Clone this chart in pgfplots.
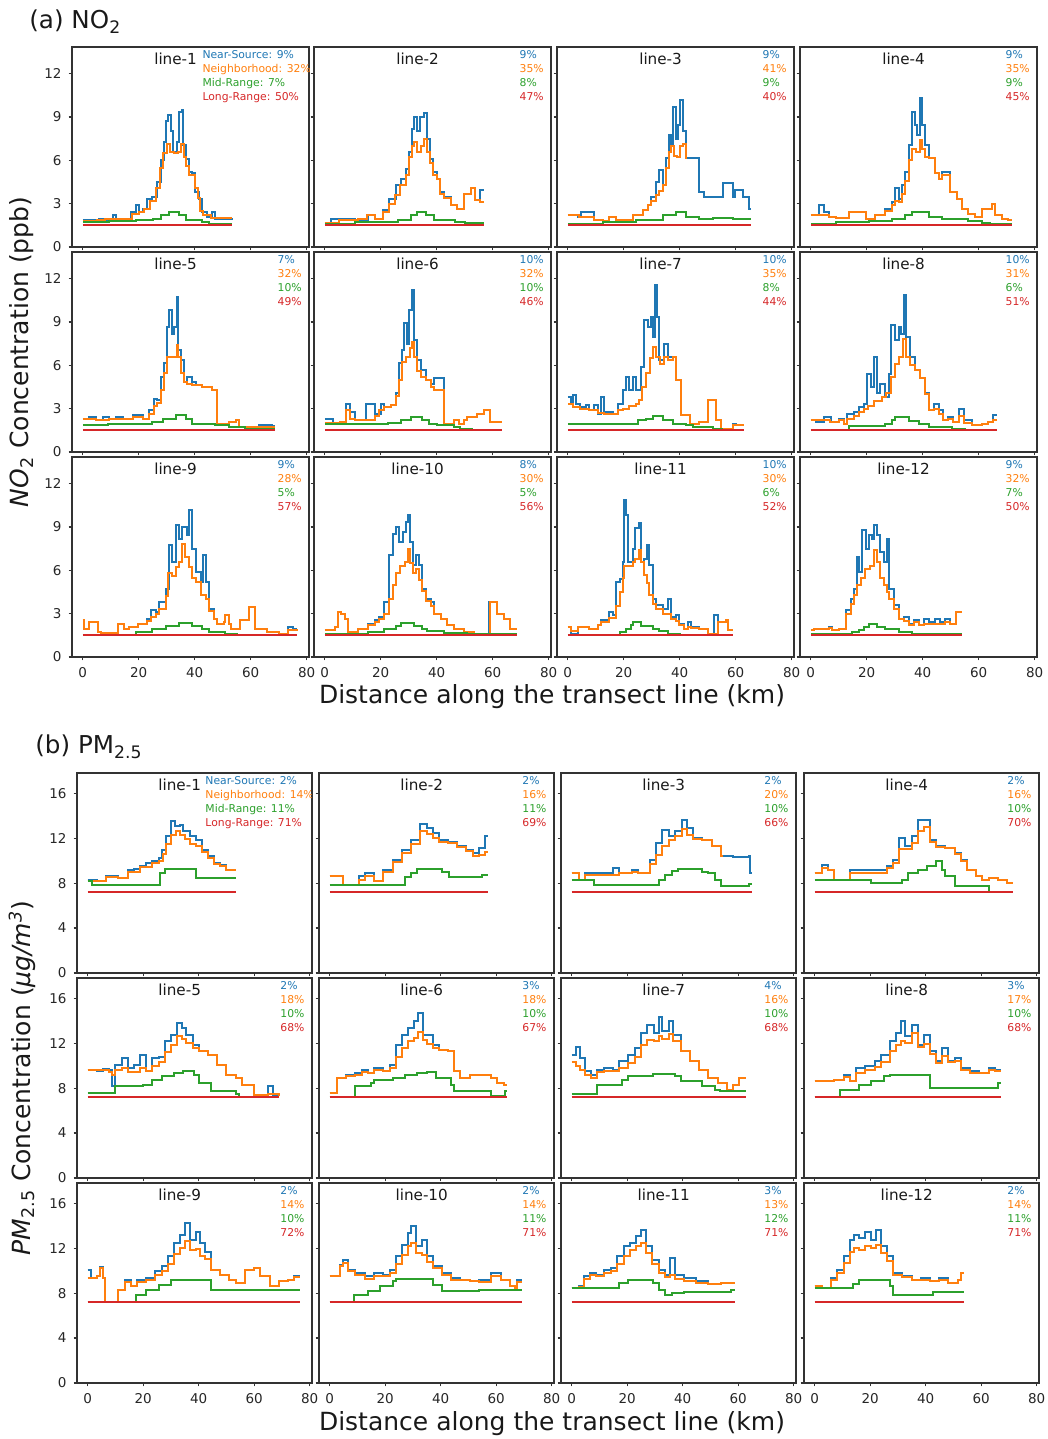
\documentclass[border=0pt]{standalone}
\usepackage{fontspec}
\setmainfont{DejaVu Sans}
\usepackage{pgfplots}
\pgfplotsset{compat=1.18}
\definecolor{cB}{HTML}{1F77B4}
\definecolor{cO}{HTML}{FF7F0E}
\definecolor{cG}{HTML}{2CA02C}
\definecolor{cR}{HTML}{D62728}
\pgfplotsset{
 base/.style={scale only axis, width=118.5pt, height=100pt, xmin=-3.85, xmax=80.85, ymin=0,
   axis line style={black!80, line width=0.6pt}, tick style={black!80, line width=0.6pt},
   major tick length=1.75pt, tick align=outside, xtick pos=bottom, ytick pos=left,
   xtick={0,20,40,60,80}, ticklabel style={font=\fontsize{6.75}{8}\selectfont, text=black!85},
   /pgf/number format/assume math mode=true, anchor=north west},
 pa/.style={base, ymax=13.85, ytick={0,3,6,9,12}},
 pb/.style={base, ymax=17.8, ytick={0,4,8,12,16}, width=117.5pt},
 nx/.style={xticklabels={,,,,,}}, ny/.style={yticklabels={,,,,,}},
 bs/.style={const plot, no markers, line width=1pt, cB},
 os/.style={const plot, no markers, line width=1pt, cO},
 gs/.style={const plot, no markers, line width=1pt, cG},
 rs/.style={no markers, line width=1pt, cR},
}
\tikzset{lg/.style={anchor=base west, inner sep=0pt, font=\fontsize{5.4}{6}\selectfont}}
\newcommand\legS[5]{%
 \node[lg,text=cB,yshift=-6pt] at (rel axis cs:#1,1) {#2\%};
 \node[lg,text=cO,yshift=-13pt] at (rel axis cs:#1,1) {#3\%};
 \node[lg,text=cG,yshift=-20pt] at (rel axis cs:#1,1) {#4\%};
 \node[lg,text=cR,yshift=-27pt] at (rel axis cs:#1,1) {#5\%};}
\newcommand\legL[5]{%
 \node[lg,text=cB,yshift=-6pt] at (rel axis cs:#1,1) {Near-Source: #2\%};
 \node[lg,text=cO,yshift=-13pt] at (rel axis cs:#1,1) {Neighborhood: #3\%};
 \node[lg,text=cG,yshift=-20pt] at (rel axis cs:#1,1) {Mid-Range: #4\%};
 \node[lg,text=cR,yshift=-27pt] at (rel axis cs:#1,1) {Long-Range: #5\%};}
\newcommand\ttl[1]{\node[anchor=base,inner sep=0pt,font=\fontsize{7.6}{9}\selectfont,text=black!90,yshift=-9pt] at (rel axis cs:0.437,1) {#1};}
\begin{document}
\begin{tikzpicture}
% ================= (a) NO2 =================
\begin{axis}[pa,nx,at={(36pt,696pt)}]
\addplot[bs] coordinates {(0,1.85)(5.9,1.97)(7.1,1.85)(10.7,2.2)(11.9,1.97)(16,1.97)(17.2,2.43)(19,2.9)(20.2,2.43)(21.4,2.66)(23.1,3.35)(24.9,3.47)(26.7,4.5)(27.9,6.0)(29.1,7.3)(29.9,8.7)(30.6,9.15)(31.4,8.0)(32.3,6.6)(33.5,7.3)(34.4,9.35)(35.3,9.5)(35.9,7.05)(36.8,6.1)(38,5.2)(39.1,5.1)(40.1,3.8)(41.5,3.35)(42.7,2.43)(44.5,2.1)(46.3,2.43)(47.4,1.97)(53.4,2.0)};
\addplot[os] coordinates {(0,1.8)(5,1.85)(8,1.95)(16,1.95)(17.5,2.3)(20,2.4)(22,2.6)(24,3.2)(26,4.1)(27.5,5.5)(28.5,6.5)(30,7.1)(31,6.6)(32.5,6.5)(34,6.6)(35,7.1)(36,6.2)(37,5.6)(38,5.0)(40,4.1)(41,3.4)(42,2.5)(43,2.2)(46,2.0)(53.4,2.0)};
\addplot[gs] coordinates {(0,1.73)(9.5,1.8)(19,1.85)(25,1.97)(27.9,2.2)(30.8,2.43)(32,2.43)(34.4,2.2)(36.8,1.85)(42.7,1.73)(45,1.62)(53.4,1.62)};
\addplot[rs] coordinates {(0,1.55)(53.4,1.55)};
\ttl{line-1}\legL{0.549}{9}{32}{7}{50}
\end{axis}
\begin{axis}[pa,nx,ny,at={(157pt,696pt)}]
\addplot[bs] coordinates {(0,1.65)(2.4,1.92)(7.1,1.97)(10.7,1.85)(15.4,2.2)(17.8,1.97)(20.7,2.54)(23.1,3.35)(25.4,4.28)(27.2,4.74)(29,5.43)(30.2,6.6)(31.1,8.2)(32,9.0)(32.9,8.0)(34.1,9.0)(35.3,9.25)(36.4,7.5)(37.6,6.1)(38.8,5.2)(40.2,4.74)(41.2,3.8)(42.6,3.47)(45,2.9)(47.3,2.66)(49.7,3.7)(52.1,4.05)(53.8,3.24)(55.6,3.93)(56.8,3.93)};
\addplot[os] coordinates {(0,1.65)(5,1.85)(12,1.95)(15,2.2)(18,1.97)(20.7,2.4)(23,3.0)(25,3.6)(27,4.3)(29,5.0)(30,6.2)(31,7.0)(32,7.3)(33,6.6)(34.5,7.0)(35.5,7.5)(36.5,6.6)(37.5,5.8)(38.8,5.0)(40,4.7)(41.2,3.7)(42.6,3.4)(45,2.9)(47.3,2.66)(49.7,3.7)(52.1,4.05)(53.8,3.24)(55.5,3.1)(56.8,3.1)};
\addplot[gs] coordinates {(0,1.62)(10.7,1.73)(26,1.85)(30.8,2.2)(33.1,2.43)(36.1,2.2)(39,1.85)(46.7,1.73)(50,1.67)(56.8,1.67)};
\addplot[rs] coordinates {(0,1.55)(56.8,1.55)};
\ttl{line-2}\legS{0.866}{9}{35}{8}{47}
\end{axis}
\begin{axis}[pa,nx,ny,at={(278.5pt,696pt)}]
\addplot[bs] coordinates {(0,2.2)(3.6,2.08)(4.8,2.43)(9.5,1.85)(12.5,1.78)(14.9,2.08)(17.3,1.85)(23.2,2.2)(26.8,2.54)(28.6,2.9)(29.8,3.47)(31.5,4.5)(32.7,5.3)(33.9,4.28)(35.1,6.13)(36.1,7.75)(36.9,7.05)(37.5,9.7)(38.5,7.5)(39.3,8.44)(40.2,10.2)(41.3,8.0)(42.3,6.13)(47,3.8)(48.8,3.47)(55.4,4.4)(58.9,3.47)(59.9,3.93)(62.5,3.47)(64.9,2.66)(65.5,2.66)};
\addplot[os] coordinates {(0,2.2)(4,2.08)(9.5,1.85)(12.5,1.78)(14.9,2.08)(17.3,1.85)(23.2,2.2)(26.8,2.54)(28.6,2.9)(29.8,3.2)(31.5,3.6)(32.7,3.9)(33.9,4.28)(35.1,5.5)(36.1,6.6)(37,7.0)(38,6.3)(39,6.2)(40.2,7.0)(41,7.1)(42.3,6.13)(42.6,6.13)};
\addplot[gs] coordinates {(0,1.62)(12.5,1.73)(24.4,1.85)(33.9,2.2)(38.7,2.43)(42.3,2.08)(47,1.97)(51.8,2.0)(58.9,1.97)(62,1.92)(65.5,1.92)};
\addplot[rs] coordinates {(0,1.55)(65.5,1.55)};
\ttl{line-3}\legS{0.866}{9}{41}{9}{40}
\end{axis}
\begin{axis}[pa,nx,ny,at={(400pt,696pt)}]
\addplot[bs] coordinates {(0,2.2)(3,2.9)(4.7,2.43)(6.5,2.08)(8.9,2.0)(13.6,2.43)(19.6,1.97)(23.1,2.2)(26.7,2.66)(29.1,3.12)(30.2,4.05)(31.4,3.35)(32.6,4.28)(33.8,5.2)(35,7.05)(36.2,9.36)(37.1,8.44)(38,7.75)(38.9,10.3)(39.7,8.44)(40.7,7.05)(42.1,6.13)(44.5,5.1)(45.7,4.74)(46.9,5.2)(49.8,3.8)(52.2,3.35)(54,2.66)(56.3,2.31)(58.7,2.08)(61.1,2.66)(64.7,3.0)(65.8,2.2)(68.2,1.97)(70.6,1.85)(71.8,1.85)};
\addplot[os] coordinates {(0,2.2)(3,2.2)(6.5,2.08)(8.9,2.0)(13.6,2.43)(19.6,1.97)(23.1,2.2)(26.7,2.5)(29.1,2.9)(30.2,3.2)(31.4,3.1)(32.6,3.7)(33.8,4.6)(35,6.0)(36.2,6.8)(37.5,6.6)(38.9,7.4)(39.7,6.8)(40.7,6.2)(42.1,6.13)(44.5,5.1)(45.7,4.74)(46.9,5.0)(49.8,3.8)(52.2,3.35)(54,2.66)(56.3,2.31)(58.7,2.08)(61.1,2.66)(64.7,3.0)(65.8,2.2)(68.2,1.97)(70.6,1.85)(71.8,1.85)};
\addplot[gs] coordinates {(0,1.62)(8.9,1.73)(20.8,1.8)(29,1.97)(33.8,2.2)(36.2,2.43)(42.1,2.08)(46.9,1.97)(56.3,1.8)(61.1,1.69)(64,1.62)(71.8,1.62)};
\addplot[rs] coordinates {(0,1.55)(71.8,1.55)};
\ttl{line-4}\legS{0.866}{9}{35}{9}{45}
\end{axis}
% row 2
\begin{axis}[pa,nx,at={(36pt,593.5pt)}]
\addplot[bs] coordinates {(0,2.31)(2.4,2.43)(4.7,2.2)(7.1,2.43)(9.5,2.31)(11.9,2.43)(14.2,2.31)(17.8,2.54)(21.4,2.31)(23.7,2.9)(25.5,3.7)(26.7,3.58)(27.9,5.2)(29.1,6.13)(30,8.67)(30.8,9.83)(31.8,8.2)(32.6,8.67)(33.5,10.75)(34.2,7.05)(35,6.36)(36.2,4.86)(37.4,5.2)(39.1,4.86)(40.3,4.62)(42.7,4.5)(46.3,4.28)(48,1.97)(52.2,2.08)(54.6,2.2)(55.8,1.73)(60.5,1.73)(62.9,1.85)(67.6,1.78)(68.8,1.78)};
\addplot[os] coordinates {(0,2.31)(4.7,2.2)(7.1,2.2)(9.5,2.31)(14.2,2.31)(17.8,2.4)(21.4,2.31)(23.7,2.6)(25.5,3.2)(26.7,3.4)(27.9,4.3)(29.1,5.5)(30,6.6)(32.6,6.6)(33.5,7.4)(34.2,6.6)(35,5.5)(36.2,4.86)(37.4,4.74)(39.1,4.62)(42.7,4.5)(46.3,4.28)(48,1.97)(52.2,2.08)(54.6,2.2)(55.8,1.73)(68.8,1.73)};
\addplot[gs] coordinates {(0,1.85)(8.9,1.92)(24.9,2.08)(28.5,2.31)(33.2,2.54)(36.8,2.31)(39.1,1.97)(47.4,1.85)(52.2,1.73)(58,1.62)(68.8,1.62)};
\addplot[rs] coordinates {(0,1.5)(68.8,1.5)};
\ttl{line-5}\legS{0.866}{7}{32}{10}{49}
\end{axis}
\begin{axis}[pa,nx,ny,at={(157pt,593.5pt)}]
\addplot[bs] coordinates {(0,2.31)(3,1.97)(7.7,3.35)(8.9,2.77)(10.7,2.2)(14.8,3.35)(17.8,2.66)(20.1,3.35)(21.3,3.12)(23.7,3.24)(25.4,4.05)(26.6,6.13)(27.6,7.05)(28.4,8.9)(29.3,7.5)(30.2,9.83)(31,11.2)(32,7.75)(33.1,6.36)(34.3,5.66)(36.1,4.97)(37.9,4.74)(39.1,5.1)(42.6,1.97)(46.2,2.2)(47.9,1.97)(49.7,2.2)(50.9,2.43)(54.4,2.66)(56.8,2.9)(59.2,2.08)(63.3,2.08)};
\addplot[os] coordinates {(0,2.0)(5.3,2.1)(7.7,2.9)(9,2.3)(10.7,2.2)(17.8,2.5)(19.5,2.9)(21.3,3.12)(23.7,3.24)(25.4,3.9)(26.6,5.0)(27.6,6.2)(29,6.6)(30.5,7.2)(31,7.6)(32,6.6)(33.1,5.6)(34.3,5.2)(36.1,4.97)(37.9,4.5)(39.1,4.3)(42.6,1.97)(46.2,2.2)(47.9,1.97)(49.7,2.2)(50.9,2.43)(54.4,2.66)(56.8,2.9)(59.2,2.08)(63.3,2.08)};
\addplot[gs] coordinates {(0,1.97)(22.5,2.02)(27.2,2.2)(30.8,2.43)(34.9,2.2)(37.3,1.97)(40.2,1.85)(46.2,1.73)(48.5,1.62)(52.7,1.5)(63.3,1.5)};
\addplot[rs] coordinates {(0,1.5)(63.3,1.5)};
\ttl{line-6}\legS{0.866}{10}{32}{10}{46}
\end{axis}
\begin{axis}[pa,nx,ny,at={(278.5pt,593.5pt)}]
\addplot[bs] coordinates {(0,3.8)(1.2,3.47)(1.8,3.93)(3,3.35)(4.2,3.12)(6.5,3.24)(7.7,2.9)(9.5,3.24)(10.7,2.66)(11.9,3.8)(13.1,2.77)(16.1,2.66)(17.9,3.35)(19.6,4.28)(20.8,5.2)(22,4.28)(23.2,5.2)(24.4,4.28)(26.2,5.9)(27.4,9.13)(28.6,8.67)(29.8,9.36)(30.6,7.98)(31.3,11.56)(31.9,9.36)(32.5,6.36)(34.5,7.51)(35.7,6.6)(37.5,6.6)(38.7,4.97)(40.5,2.54)(43.5,1.97)(47,2.08)(50,3.58)(53,2.2)(54.8,1.62)(58.9,1.97)(60.1,1.85)(63.1,1.85)};
\addplot[os] coordinates {(0,3.3)(2,3.1)(4.2,3.0)(7.7,2.9)(10.7,2.7)(13.1,2.6)(16.1,2.6)(18,2.9)(19.6,3.0)(22,3.2)(24.4,3.3)(25.5,3.6)(26.5,4.5)(28,5.5)(29.5,6.5)(30.6,7.3)(31.5,6.6)(33,6.1)(34.5,6.6)(35.7,6.4)(37.5,6.6)(38.7,4.97)(40.5,2.54)(43.5,1.97)(47,2.08)(50,3.58)(53,2.2)(54.8,1.62)(58.9,1.85)(63.1,1.85)};
\addplot[gs] coordinates {(0,1.92)(18.5,1.92)(23.2,1.97)(25,2.2)(28,2.31)(30.4,2.47)(33.9,2.2)(37.5,1.97)(42.3,1.85)(44.6,1.73)(51.8,1.62)(55,1.55)(63.1,1.55)};
\addplot[rs] coordinates {(0,1.5)(63.1,1.5)};
\ttl{line-7}\legS{0.866}{10}{35}{8}{44}
\end{axis}
\begin{axis}[pa,nx,ny,at={(400pt,593.5pt)}]
\addplot[bs] coordinates {(0,2.2)(1.8,2.08)(4.7,2.43)(7.1,2.08)(10.1,2.31)(11.9,1.97)(13,2.66)(15.4,2.77)(17.2,3.12)(19,3.35)(20.2,5.43)(21.4,4.5)(22.5,6.6)(23.7,4.05)(24.9,4.74)(26.7,3.8)(27.9,5.43)(28.8,8.8)(30,7.75)(31.4,8.67)(32.4,8.2)(33.2,10.9)(34,7.98)(35.6,6.6)(37.4,5.66)(39.1,5.1)(40.9,4.05)(42.1,2.9)(43.9,3.35)(45.7,2.9)(47.4,2.2)(49.2,2.43)(51,2.08)(52.8,3.0)(54.6,2.2)(57.5,1.85)(61.1,1.97)(63.5,2.08)(65.2,2.54)(66.4,2.54)};
\addplot[os] coordinates {(0,2.2)(7,2.08)(10,2.2)(12,1.97)(13,2.3)(15.4,2.5)(17.2,2.8)(19,3.0)(20.5,3.2)(22.5,3.5)(24,3.5)(25.5,3.8)(27,4.1)(28.5,5.2)(30,6.1)(31.5,6.6)(33,7.8)(34,6.6)(35.6,6.0)(37.4,5.7)(39.1,5.1)(40.9,4.0)(42.1,2.9)(43.9,3.0)(45.7,2.6)(47.4,2.2)(49.2,2.3)(51,2.08)(52.8,2.5)(54.6,2.0)(57.5,1.85)(61.1,1.97)(63.5,2.08)(65.2,2.2)(66.4,2.2)};
\addplot[gs] coordinates {(0,1.55)(13.6,1.78)(26.7,1.97)(29,2.2)(30,2.43)(35,2.15)(38.6,1.97)(42.1,1.73)(50.4,1.62)(55,1.55)(66.4,1.55)};
\addplot[rs] coordinates {(0,1.5)(66.4,1.5)};
\ttl{line-8}\legS{0.866}{10}{31}{6}{51}
\end{axis}
% row 3
\begin{axis}[pa,at={(36pt,491pt)}]
\addplot[bs] coordinates {(0,2.54)(0.6,1.97)(2.4,2.43)(5.3,1.73)(6.5,1.66)(12.5,2.31)(14.8,1.97)(16.6,2.08)(19.6,2.31)(23.1,2.66)(24.3,3.24)(26.1,3.12)(27.3,3.8)(29.7,4.74)(30.8,7.75)(32,6.6)(33.2,9.13)(34.4,8.2)(35.6,9.0)(37.4,8.44)(38,10.2)(38.9,7.5)(40.3,5.9)(42.1,5.2)(42.9,7.05)(43.9,5.2)(45.1,3.35)(46.9,2.66)(48,2.31)(50.4,2.43)(51,2.9)(52.2,2.31)(52.8,1.97)(56.3,2.54)(59.3,3.47)(61.7,1.97)(65.8,1.73)(70,1.62)(73.5,2.08)(75.3,1.97)(76.5,1.97)};
\addplot[os] coordinates {(0,2.54)(0.6,1.97)(2.4,2.43)(5.3,1.73)(6.5,1.66)(12.5,2.31)(14.8,1.97)(16.6,2.08)(19.6,2.31)(23.1,2.5)(24.3,2.8)(26.1,3.0)(27.3,3.3)(29.7,4.2)(30.5,5.8)(32,5.6)(33.2,6.2)(34.4,6.6)(35.5,7.8)(36.5,6.9)(38,6.2)(39,5.5)(40.3,5.2)(42.1,4.3)(43.9,4.0)(45.1,3.2)(46.9,2.66)(48,2.31)(50.4,2.43)(51,2.9)(52.2,2.31)(52.8,1.97)(56.3,2.54)(59.3,3.47)(61.7,1.97)(65.8,1.73)(70,1.62)(73.5,1.9)(76.5,1.97)};
\addplot[gs] coordinates {(0,1.55)(19,1.73)(24.9,1.92)(29.7,2.15)(34.4,2.38)(38.9,2.15)(42.7,1.97)(45,1.73)(51,1.62)(55,1.55)(76.5,1.55)};
\addplot[rs] coordinates {(0,1.5)(76.5,1.5)};
\ttl{line-9}\legS{0.866}{9}{28}{5}{57}
\end{axis}
\begin{axis}[pa,ny,at={(157pt,491pt)}]
\addplot[bs] coordinates {(0,1.85)(3.6,2.08)(4.7,3.12)(5.9,3.0)(7.1,2.66)(8.3,1.73)(11.8,1.97)(15.4,2.31)(17.8,2.54)(19.5,2.77)(21.3,3.8)(23.1,7.05)(24.3,8.55)(25.4,9.0)(26.6,7.98)(27.8,8.67)(29,9.36)(29.6,9.83)(30.5,7.98)(31.4,6.36)(32.5,7.05)(33.7,6.36)(34.9,4.74)(36.1,4.05)(37.9,3.8)(39.1,3.0)(41.4,2.66)(43.8,2.2)(46.2,1.97)(49.7,1.73)(53.3,1.62)(58.6,3.8)(61.5,3.0)(63.9,2.66)(66.3,1.97)(68.6,1.97)};
\addplot[os] coordinates {(0,1.85)(3.6,2.08)(4.7,3.12)(5.9,3.0)(7.1,2.66)(8.3,1.73)(11.8,1.97)(15.4,2.2)(17.8,2.4)(19.5,2.6)(21.3,3.0)(23,4.0)(24.3,5.0)(25.4,5.8)(27,6.3)(28.5,6.6)(29.6,7.5)(30.5,6.5)(31.4,5.8)(32.5,6.1)(33.7,5.3)(34.9,4.6)(36.1,3.9)(37.9,3.5)(39.1,3.0)(41.4,2.66)(43.8,2.2)(46.2,1.97)(49.7,1.73)(53.3,1.62)(58.9,3.8)(61.5,3.0)(63.9,2.66)(66.3,1.97)(68.6,1.97)};
\addplot[gs] coordinates {(0,1.62)(15.4,1.73)(21.3,1.92)(25.4,2.15)(27.2,2.36)(32,2.15)(34.9,1.97)(36.7,1.78)(42.6,1.66)(50.9,1.57)(68.6,1.57)};
\addplot[rs] coordinates {(0,1.5)(68.6,1.5)};
\ttl{line-10}\legS{0.866}{8}{30}{5}{56}
\end{axis}
\begin{axis}[pa,ny,at={(278.5pt,491pt)}]
\addplot[bs] coordinates {(0,2.08)(1.2,1.62)(3.6,2.08)(7.7,1.97)(10.7,2.2)(11.9,2.54)(14.9,3.12)(16.1,2.9)(17.3,5.2)(18.5,5.43)(19.6,6.6)(20.2,10.87)(20.8,9.83)(21.5,6.6)(23.2,7.5)(24.2,8.9)(25.4,9.25)(26.2,6.6)(27.4,6.82)(28.3,7.75)(29.2,6.36)(30.4,4.05)(31.5,3.58)(33.9,3.35)(35.7,4.05)(36.9,2.77)(38.7,2.9)(39.9,2.31)(41.7,1.97)(42.9,2.43)(44,2.08)(47,1.97)(50,1.62)(52.4,2.9)(53.6,2.43)(56.5,2.54)(57.1,1.85)(58.9,1.85)};
\addplot[os] coordinates {(0,2.08)(1.2,1.8)(3.6,2.08)(7.7,1.97)(10.7,2.2)(11.9,2.4)(14.9,2.7)(16.1,2.7)(17.3,3.5)(18.5,4.5)(19.6,5.5)(20.2,6.3)(23.2,6.6)(24.2,6.8)(25.3,7.4)(26.2,6.6)(27.4,5.7)(28.3,5.1)(29.2,4.3)(30.4,3.7)(31.5,3.3)(33.9,3.0)(35.7,3.0)(36.9,2.6)(38.7,2.5)(39.9,2.2)(41.7,1.97)(42.9,2.1)(44,2.0)(47,1.97)(50,1.62)(53.6,2.43)(56.5,2.54)(57.1,1.85)(58.9,1.85)};
\addplot[gs] coordinates {(0,1.55)(18.5,1.73)(20.8,1.97)(22.6,2.2)(23.2,2.43)(26.2,2.15)(30.4,1.97)(32.7,1.8)(35.7,1.62)(40,1.55)(58.9,1.55)};
\addplot[rs] coordinates {(0,1.5)(58.9,1.5)};
\ttl{line-11}\legS{0.866}{10}{30}{6}{52}
\end{axis}
\begin{axis}[pa,ny,at={(400pt,491pt)}]
\addplot[bs] coordinates {(0,1.85)(1.2,1.97)(6.5,2.08)(7.7,1.85)(10.1,1.97)(12.5,3.24)(14.2,4.05)(15.4,4.74)(16.6,6.94)(17.4,5.9)(18.4,8.8)(19.6,7.5)(20.8,8.44)(21.7,8.2)(22.5,9.13)(23.7,8.44)(24.9,7.28)(26.1,6.6)(27.3,8.2)(28.1,4.74)(29.7,3.58)(31.4,2.66)(33.2,2.77)(35,2.31)(36.8,2.54)(38.6,2.2)(40.3,2.66)(42.1,2.43)(44.5,2.66)(46.3,2.43)(48,2.66)(49.8,2.31)(51.8,3.12)(54,3.12)};
\addplot[os] coordinates {(0,1.85)(1.2,1.97)(6.5,2.0)(7.7,1.85)(10.1,1.97)(12.5,3.0)(14.2,3.7)(15.4,4.3)(16.6,5.0)(18,5.5)(19.5,6.1)(21,6.3)(22.5,7.4)(23.5,6.6)(24.9,5.5)(26.1,5.0)(27.3,4.5)(28.1,4.0)(29.7,3.3)(31.4,2.6)(33.2,2.5)(35,2.2)(36.8,2.4)(38.6,2.2)(40.3,2.3)(42.1,2.3)(44.5,2.3)(46.3,2.3)(48,2.4)(49.8,2.3)(51.8,3.12)(54,3.12)};
\addplot[gs] coordinates {(0,1.62)(14.8,1.73)(17.2,1.85)(19,2.08)(20.8,2.31)(23.7,2.08)(26.7,1.92)(31.4,1.73)(36.2,1.62)(54,1.62)};
\addplot[rs] coordinates {(0,1.5)(54,1.5)};
\ttl{line-12}\legS{0.866}{9}{32}{7}{50}
\end{axis}
% ================= (b) PM2.5 =================
\begin{axis}[pb,nx,at={(38.5pt,333pt)}]
\addplot[bs] coordinates {(0,8.3)(3.3,8.15)(6.7,8.6)(7.8,8.65)(11.1,8.44)(14.4,9.2)(16.7,9.24)(18.9,9.48)(21.1,9.78)(23.3,9.93)(25.6,10.2)(26.7,10.96)(28.4,12.15)(30,13.5)(31.6,13.04)(33.3,13.2)(34.4,12.6)(36.7,12.15)(38.9,11.85)(41.1,10.96)(43.3,10.37)(45.6,9.78)(47.8,9.63)(50,9.19)(53.3,9.19)};
\addplot[os] coordinates {(0,8.2)(6.7,8.5)(11.1,8.44)(14.4,9.0)(18.9,9.4)(23.3,9.8)(25.6,10.0)(27,10.6)(28.4,11.5)(30,12.3)(32,12.6)(33.3,12.3)(35,11.9)(36.7,11.5)(38.9,11.3)(41.1,10.8)(43.3,10.2)(45.6,9.7)(47.8,9.5)(50,9.2)(53.3,9.2)};
\addplot[gs] coordinates {(0,8.15)(1.5,7.85)(26.2,8.9)(28,9.24)(38.9,8.44)(53.3,8.44)};
\addplot[rs] coordinates {(0,7.17)(53.3,7.17)};
\ttl{line-1}\legL{0.545}{2}{14}{11}{71}
\end{axis}
\begin{axis}[pb,nx,ny,at={(159.5pt,333pt)}]
\addplot[bs] coordinates {(0,8.6)(4.9,7.85)(10.4,8.6)(12.7,8.9)(16,8.15)(19.3,9.19)(22.7,10.07)(26,10.96)(29.3,11.85)(32.7,13.3)(34.9,12.9)(37.1,12.44)(39.3,11.85)(42.7,11.7)(46,11.26)(49.3,10.96)(51.6,10.67)(53.8,11.1)(56,12.15)(57.1,12.15)};
\addplot[os] coordinates {(0,8.6)(4.9,7.85)(10.4,8.3)(12.7,8.6)(16,8.15)(19.3,9.0)(22.7,9.9)(26,10.7)(29.3,11.5)(32.7,12.6)(34.9,12.4)(37.1,12.0)(39.3,11.7)(42.7,11.6)(46,11.2)(49.3,10.9)(51.6,10.4)(53.8,10.5)(56,10.8)(57.1,10.8)};
\addplot[gs] coordinates {(0,7.85)(27.1,8.5)(29.3,8.9)(31.6,9.24)(40.4,9.0)(43.1,8.53)(54.9,8.74)(57.1,8.74)};
\addplot[rs] coordinates {(0,7.17)(57.1,7.17)};
\ttl{line-2}\legS{0.864}{2}{16}{11}{69}
\end{axis}
\begin{axis}[pb,nx,ny,at={(280.5pt,333pt)}]
\addplot[bs] coordinates {(0,8.9)(2.7,8.3)(4.9,8.9)(14.9,9.33)(17.1,8.9)(21.6,9.19)(23.8,8.9)(28.2,10.07)(30.4,11.56)(32.7,12.74)(34.9,12.15)(37.1,12.6)(39.6,13.63)(41.6,12.9)(43.8,12.0)(47.1,11.85)(50.4,11.26)(53.8,10.37)(58.2,10.3)(63.8,10.37)(64.4,8.9)(64.9,8.9)};
\addplot[os] coordinates {(0,8.9)(2.7,8.3)(4.9,8.7)(14.9,8.7)(17.1,8.9)(21.6,9.0)(23.8,8.9)(28.2,9.7)(30.4,10.5)(32.7,11.3)(34.9,11.8)(37.1,12.2)(39.6,12.8)(41.6,12.3)(43.8,11.9)(47.1,11.85)(50.4,11.26)(53.8,10.37)(54.5,10.37)};
\addplot[gs] coordinates {(0,8.3)(8.2,7.85)(31.6,8.3)(33.8,8.74)(36,9.04)(38.2,9.24)(47.1,9.0)(49.3,8.9)(51.5,8.3)(53.8,7.7)(63.8,7.94)(64.9,7.94)};
\addplot[rs] coordinates {(0,7.17)(64.9,7.17)};
\ttl{line-3}\legS{0.864}{2}{20}{10}{66}
\end{axis}
\begin{axis}[pb,nx,ny,at={(402pt,333pt)}]
\addplot[bs] coordinates {(0,8.9)(2.7,9.63)(4.9,9.19)(7.1,8.3)(10.4,8.3)(12.7,9.19)(17.1,9.19)(22.7,9.19)(26,9.48)(28.2,10.07)(30.4,12.0)(32.7,11.26)(34.9,12.15)(37.1,13.63)(39.3,13.63)(41.6,11.85)(43.8,11.26)(47.1,11.1)(50.4,10.67)(52.7,10.07)(54.9,9.19)(58.2,8.6)(60.4,8.3)(62.7,8.44)(66,8.3)(69.3,8.0)(71.6,8.0)};
\addplot[os] coordinates {(0,8.9)(2.7,9.3)(4.9,9.19)(7.1,8.3)(10.4,8.3)(12.7,8.9)(22.7,8.9)(26,9.3)(28.2,9.8)(30.4,11.0)(32.7,11.0)(34.9,11.6)(37.1,12.6)(39.3,13.0)(41.6,11.7)(43.8,11.2)(47.1,11.1)(50.4,10.6)(52.7,10.0)(54.9,9.19)(58.2,8.6)(60.4,8.3)(62.7,8.44)(66,8.3)(69.3,8.0)(71.6,8.0)};
\addplot[gs] coordinates {(0,8.3)(20.4,8.0)(31.6,8.3)(33.8,8.9)(37.1,9.19)(40.4,9.48)(43.8,9.93)(46,9.19)(47.1,8.6)(50.4,7.76)(62.7,7.17)(71.6,7.17)};
\addplot[rs] coordinates {(0,7.17)(71.6,7.17)};
\ttl{line-4}\legS{0.864}{2}{16}{10}{70}
\end{axis}
% row 2
\begin{axis}[pb,nx,at={(38.5pt,230.5pt)}]
\addplot[bs] coordinates {(0,9.63)(3.3,9.48)(5.6,9.72)(7.8,9.63)(8.9,8.15)(10,10.07)(12.2,10.67)(14.4,9.78)(16.7,10.07)(18.9,10.96)(21.1,9.48)(23.3,10.67)(25.6,10.81)(27.8,12.15)(30,12.74)(32.2,13.78)(34,13.33)(35.6,12.74)(37.8,11.85)(40,11.26)(43.3,10.96)(46.7,10.07)(50,9.19)(53.3,8.9)(55.6,8.3)(60,7.41)(64.9,8.15)(66.7,7.26)(68.9,7.26)};
\addplot[os] coordinates {(0,9.63)(7.8,9.4)(8.9,9.2)(10,9.6)(12.2,9.8)(14.4,9.4)(18.9,9.8)(21.1,9.48)(23.3,10.0)(25.6,10.3)(27.8,11.2)(30,11.8)(32.2,12.6)(34,12.4)(35.6,12.0)(37.8,11.6)(40,11.26)(43.3,10.96)(46.7,10.07)(50,9.19)(53.3,8.9)(55.6,8.3)(60,7.41)(64.9,7.5)(68.9,7.3)};
\addplot[gs] coordinates {(0,7.56)(10,8.15)(20,8.3)(23.3,8.74)(26.7,9.04)(31.1,9.33)(34.4,9.54)(38.5,9.19)(40,8.44)(44.4,7.7)(53.3,7.47)(54.5,7.17)(68.9,7.17)};
\addplot[rs] coordinates {(0,7.17)(68.9,7.17)};
\ttl{line-5}\legS{0.864}{2}{18}{10}{68}
\end{axis}
\begin{axis}[pb,nx,ny,at={(159.5pt,230.5pt)}]
\addplot[bs] coordinates {(0,7.56)(2.7,8.9)(6,9.19)(9.3,9.33)(11.6,9.63)(13.8,9.33)(16,9.78)(19.3,9.48)(21.6,10.07)(23.8,11.85)(26,12.74)(28.2,13.33)(30.4,13.93)(32,14.67)(33.8,12.74)(37.1,11.85)(39.3,11.41)(42.7,11.26)(44.9,9.48)(47.1,8.9)(50.4,9.19)(54.9,9.19)(58.2,8.9)(60.4,8.44)(62.7,8.3)(63.8,8.3)};
\addplot[os] coordinates {(0,7.56)(2.7,8.9)(6,9.1)(9.3,9.2)(11.6,9.4)(13.8,9.33)(16,9.6)(19.3,9.48)(21.6,9.8)(23.8,10.8)(26,11.6)(28.2,12.2)(30.4,12.5)(32,13.0)(33.8,12.3)(35,11.9)(37.1,11.6)(39.3,11.41)(42.7,11.26)(44.9,9.48)(47.1,8.9)(50.4,9.19)(54.9,9.19)(58.2,8.9)(60.4,8.44)(62.7,8.3)(63.8,8.3)};
\addplot[gs] coordinates {(0,7.17)(9.3,8.15)(14.9,8.44)(16,8.74)(22.7,8.9)(27.1,9.19)(31.6,9.33)(34.9,9.42)(38.2,8.9)(43.8,8.3)(44.9,7.7)(58,7.26)(62.7,7.26)(63.3,7.7)(63.8,7.7)};
\addplot[rs] coordinates {(0,7.17)(63.8,7.17)};
\ttl{line-6}\legS{0.864}{3}{18}{10}{67}
\end{axis}
\begin{axis}[pb,nx,ny,at={(280.5pt,230.5pt)}]
\addplot[bs] coordinates {(0,10.96)(1.6,11.7)(3.1,10.67)(4.9,9.48)(7.1,9.19)(9.3,9.63)(11.6,9.78)(14.9,9.63)(17.1,10.37)(20.4,10.96)(22.7,11.56)(25.1,12.89)(27.3,13.63)(29.6,12.89)(31.3,14.37)(32.7,13.04)(34.9,13.93)(36.4,12.74)(39.3,11.26)(42.7,10.37)(46,9.63)(49.3,8.9)(52.7,8.44)(56,7.85)(58.2,8.3)(60.4,8.9)(62.7,8.9)};
\addplot[os] coordinates {(0,10.3)(1.6,10.0)(3.1,9.6)(4.9,9.2)(7.1,8.9)(9.3,9.4)(11.6,9.5)(14.9,9.5)(17.1,9.8)(20.4,10.2)(22.7,10.8)(25.1,11.8)(27.3,12.3)(29.6,12.2)(31.3,12.6)(32.7,12.4)(34.9,12.8)(36.4,12.2)(39.3,11.26)(42.7,10.37)(46,9.63)(49.3,8.9)(52.7,8.44)(56,7.85)(58.2,8.3)(60.4,8.9)(62.7,8.9)};
\addplot[gs] coordinates {(0,7.47)(9.3,8.3)(18.2,8.74)(20.4,9.04)(29.3,9.24)(37.1,9.04)(39.3,8.6)(47.1,8.15)(51.6,7.85)(53.5,7.7)(62.7,7.7)};
\addplot[rs] coordinates {(0,7.17)(62.7,7.17)};
\ttl{line-7}\legS{0.864}{4}{16}{10}{68}
\end{axis}
\begin{axis}[pb,nx,ny,at={(402pt,230.5pt)}]
\addplot[bs] coordinates {(0,8.6)(7.1,8.74)(10.4,9.19)(12.7,8.6)(14.9,9.78)(18.2,9.93)(21.6,10.37)(23.8,10.96)(27.1,12.15)(29.3,12.89)(31.1,13.93)(32.7,12.6)(34.9,13.63)(37.1,11.85)(39.3,12.74)(41.6,11.26)(43.8,10.37)(46,11.56)(48.2,10.37)(50.4,10.67)(52.7,9.78)(56,9.48)(59.3,9.33)(62.7,9.78)(64.9,9.63)(67.1,9.63)};
\addplot[os] coordinates {(0,8.6)(7.1,8.74)(10.4,9.0)(12.7,8.6)(14.9,9.3)(18.2,9.6)(21.6,9.9)(23.8,10.3)(27.1,11.3)(29.3,11.8)(31.1,12.2)(32.7,12.0)(34.9,12.9)(37.1,11.7)(39.3,11.9)(41.6,11.0)(43.8,10.2)(46,10.9)(48.2,10.3)(50.4,10.4)(52.7,9.6)(56,9.3)(59.3,9.33)(62.7,9.6)(64.9,9.5)(67.1,9.5)};
\addplot[gs] coordinates {(0,7.17)(9.3,7.85)(16,8.3)(20.4,8.65)(24.9,9.04)(27.1,9.19)(41.6,8.0)(64.9,8.0)(66,8.44)(67.1,8.44)};
\addplot[rs] coordinates {(0,7.17)(67.1,7.17)};
\ttl{line-8}\legS{0.864}{3}{17}{10}{68}
\end{axis}
% row 3
\begin{axis}[pb,at={(38.5pt,128pt)}]
\addplot[bs] coordinates {(0,10.07)(1.1,9.33)(3.3,9.48)(4.4,10.3)(5.6,9.33)(6.2,7.17)(8.9,7.17)(11.1,8.3)(13.3,9.19)(15.6,8.6)(17.8,9.19)(21.1,9.33)(24.4,9.93)(26.7,10.37)(28.9,11.26)(31.1,12.44)(33.3,13.19)(35.1,14.22)(36.7,12.74)(38.9,13.48)(40.4,12.44)(42.2,11.7)(44.4,10.07)(47.8,9.63)(51.1,9.19)(53.3,8.9)(56.7,10.07)(60,10.22)(62.2,9.48)(65.6,8.6)(68.9,9.04)(72.2,9.19)(74.4,9.48)(76.7,9.48)};
\addplot[os] coordinates {(0,9.33)(3.3,9.48)(4.4,10.2)(5.6,9.33)(6.2,7.17)(8.9,7.17)(11.1,8.3)(13.3,9.0)(15.6,8.6)(17.8,9.0)(21.1,9.2)(24.4,9.6)(26.7,10.0)(28.9,10.6)(31.1,11.5)(33.3,12.0)(35.1,12.6)(36.7,11.8)(38.9,11.9)(40.4,11.3)(42.2,11.0)(44.4,10.07)(47.8,9.63)(51.1,9.19)(53.3,8.9)(56.7,10.07)(60,10.22)(62.2,9.48)(65.6,8.6)(68.9,9.04)(72.2,9.19)(74.4,9.4)(76.7,9.4)};
\addplot[gs] coordinates {(0,7.17)(17.3,7.85)(21.1,8.3)(25.6,8.74)(30,9.19)(44.4,8.24)(76.7,8.24)};
\addplot[rs] coordinates {(0,7.17)(76.7,7.17)};
\ttl{line-9}\legS{0.864}{2}{14}{10}{72}
\end{axis}
\begin{axis}[pb,ny,at={(159.5pt,128pt)}]
\addplot[bs] coordinates {(0,9.48)(2.7,9.48)(3.8,10.5)(4.9,10.96)(6.7,10.07)(9.3,9.78)(12.7,9.48)(16,9.78)(19.3,9.63)(21.6,10.07)(23.8,11.26)(26,12.3)(28.2,13.33)(29.3,13.93)(31.1,12.15)(33.3,12.74)(34.9,11.26)(37.1,10.37)(40.4,9.78)(43.8,9.33)(47.1,9.19)(50.4,9.04)(53.8,9.19)(58.2,9.78)(61.6,9.19)(64.9,8.6)(66.7,8.3)(67.6,9.19)(69.3,9.19)};
\addplot[os] coordinates {(0,9.48)(3.8,10.4)(4.9,10.7)(6.7,10.0)(9.3,9.6)(12.7,9.3)(16,9.5)(19.3,9.5)(21.6,9.8)(23.8,10.6)(26,11.4)(28.2,12.2)(29.3,12.5)(31.1,11.6)(33.3,11.4)(34.9,10.8)(37.1,10.2)(40.4,9.6)(43.8,9.2)(47.1,9.19)(50.4,9.04)(53.8,9.0)(58.2,9.5)(61.6,9.19)(64.9,8.6)(66.7,8.3)(67.6,9.0)(69.3,9.0)};
\addplot[gs] coordinates {(0,7.17)(8.9,7.85)(13.8,8.15)(18.2,8.6)(22.7,9.04)(23.8,9.24)(37.1,8.74)(40.4,8.15)(53.8,8.24)(69.3,8.24)};
\addplot[rs] coordinates {(0,7.17)(69.3,7.17)};
\ttl{line-10}\legS{0.864}{2}{14}{11}{71}
\end{axis}
\begin{axis}[pb,ny,at={(280.5pt,128pt)}]
\addplot[bs] coordinates {(0,8.44)(2.7,8.6)(4.4,9.48)(6.7,9.78)(8.9,9.63)(11.6,10.07)(14.2,10.22)(16.4,11.26)(18.7,12.15)(20.9,12.44)(23.1,13.04)(24.9,13.63)(26.7,12.15)(28.9,10.96)(31.6,10.07)(33.8,9.63)(35.6,11.1)(37.1,9.63)(40.4,9.33)(44.9,9.04)(49.3,8.83)(53.8,8.9)(58.7,8.9)};
\addplot[os] coordinates {(0,8.44)(2.7,8.5)(4.4,9.3)(6.7,9.6)(8.9,9.5)(11.6,9.8)(14.2,10.0)(16.4,10.6)(18.7,11.3)(20.9,11.8)(23.1,12.2)(24.9,12.5)(26.7,11.6)(28.9,10.6)(31.6,9.8)(33.8,9.4)(35.6,9.6)(37.1,9.3)(40.4,9.1)(44.9,8.9)(49.3,8.83)(53.8,8.9)(58.7,8.9)};
\addplot[gs] coordinates {(0,8.44)(17.1,8.9)(20.4,9.19)(29.3,8.9)(31.6,8.3)(33.8,7.85)(36,8.0)(40.4,8.08)(57.5,8.3)(58.7,8.3)};
\addplot[rs] coordinates {(0,7.17)(58.7,7.17)};
\ttl{line-11}\legS{0.864}{3}{13}{12}{71}
\end{axis}
\begin{axis}[pb,ny,at={(402pt,128pt)}]
\addplot[bs] coordinates {(0,8.6)(2.7,8.44)(6,9.33)(8.2,10.07)(10.4,11.26)(12.7,12.74)(14.2,13.19)(16,12.89)(18.2,13.48)(20.4,12.74)(22.2,13.63)(23.8,12.15)(26,11.26)(28.2,9.78)(31.6,9.48)(34.9,9.19)(38.2,9.33)(41.6,9.04)(44.9,9.33)(48.2,8.9)(51.6,9.19)(52.7,9.78)(53.8,9.78)};
\addplot[os] coordinates {(0,8.6)(2.7,8.44)(6,9.2)(8.2,9.8)(10.4,10.7)(12.7,11.7)(14.2,12.0)(16,11.8)(18.2,12.2)(20.4,12.0)(22.2,12.3)(23.8,11.6)(26,10.9)(28.2,9.6)(31.6,9.4)(34.9,9.19)(38.2,9.2)(41.6,9.04)(44.9,9.2)(48.2,8.9)(51.6,9.19)(52.7,9.78)(53.8,9.78)};
\addplot[gs] coordinates {(0,8.44)(13.8,8.83)(16,9.19)(27.1,8.6)(28.2,7.85)(42.7,8.1)(53.8,8.1)};
\addplot[rs] coordinates {(0,7.17)(53.8,7.17)};
\ttl{line-12}\legS{0.864}{2}{14}{11}{71}
\end{axis}
% ================= titles and labels =================
\node[anchor=base west,inner sep=0pt,font=\fontsize{12.3}{14}\selectfont,text=black!90] at (14.5pt,705pt) {(a) NO\textsubscript{2}};
\node[anchor=base west,inner sep=0pt,font=\fontsize{12.3}{14}\selectfont,text=black!90] at (17.5pt,342.5pt) {(b) PM\textsubscript{2.5}};
\node[anchor=base,inner sep=0pt,font=\fontsize{12.5}{14}\selectfont,text=black!90] at (276pt,367.5pt) {Distance along the transect line (km)};
\node[anchor=base,inner sep=0pt,font=\fontsize{12.5}{14}\selectfont,text=black!90] at (276pt,4.5pt) {Distance along the transect line (km)};
\node[rotate=90,inner sep=0pt,font=\fontsize{12.5}{14}\selectfont,text=black!90] at (11pt,543.5pt) {\textit{NO}\textsubscript{2} Concentration (ppb)};
\node[rotate=90,inner sep=0pt,font=\fontsize{12.5}{14}\selectfont,text=black!90] at (11pt,180.5pt) {\textit{PM}\textsubscript{2.5} Concentration (\textit{μg/m}\textsuperscript{\textit{3}})};
\pgfresetboundingbox
\path[use as bounding box] (0pt,0pt) rectangle (524pt,719.5pt);
\end{tikzpicture}
\end{document}
